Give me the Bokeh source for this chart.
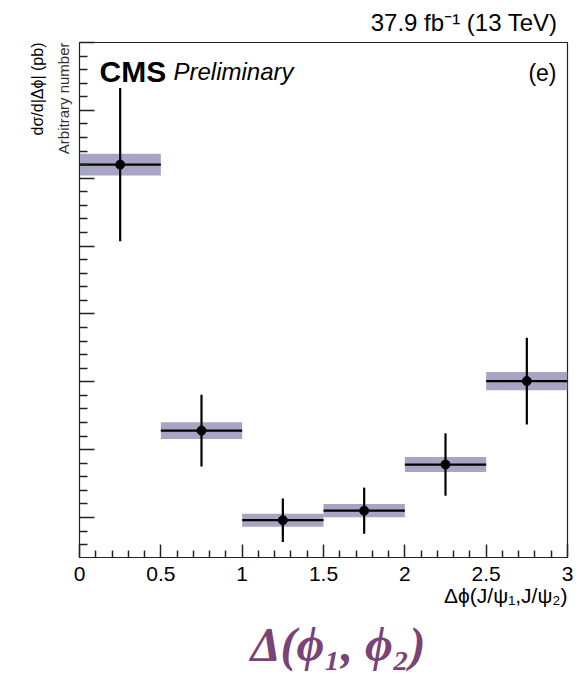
from bokeh.plotting import figure
from bokeh.models import Label, FixedTicker, Range1d, Title
from bokeh.embed import file_html
from bokeh.resources import INLINE

# ---------------- data ----------------
bin_lo = [0.0, 0.5, 1.0, 1.5, 2.0, 2.5]
bin_hi = [0.5, 1.0, 1.5, 2.0, 2.5, 3.0]
bin_center = [0.25, 0.75, 1.25, 1.75, 2.25, 2.75]
values = [6.20, 2.28, 0.96, 1.10, 1.78, 3.01]          # arbitrary units
stat_err = [1.13, 0.53, 0.32, 0.34, 0.46, 0.64]
syst_err = [0.16, 0.125, 0.096, 0.098, 0.11, 0.135]
x_ticks = [0, 0.5, 1, 1.5, 2, 2.5, 3]
x_tick_labels = ["0", "0.5", "1", "1.5", "2", "2.5", "3"]
y_ticks = [1, 2, 3, 4, 5, 6, 7, 8]

# ---------------- layout ----------------
W, H = 584, 691
L, R, T, B = 79, 567, 42, 557
X0, X1 = 0.0, 3.0
Y0, Y1 = 0.41, 8.0
FONT = "Liberation Sans"
AX = "#222222"
PURPLE = "#7a4376"

p = figure(width=W, height=H, output_backend="svg", toolbar_location=None,
           x_range=Range1d(X0, X1), y_range=Range1d(Y0, Y1),
           min_border_left=L, min_border_right=W - R,
           min_border_top=T, min_border_bottom=H - B)
p.background_fill_color = "white"
p.border_fill_color = "white"
p.outline_line_color = AX
p.outline_line_width = 1.2
p.xgrid.visible = False
p.ygrid.visible = False


def dx(px):
    return X0 + (px - L) / (R - L) * (X1 - X0)


def dy(py):
    return Y0 + (B - py) / (B - T) * (Y1 - Y0)


# ---------------- axes ----------------
xa = p.xaxis[0]
minor_x = [round(i * 0.1, 2) for i in range(31) if i % 5 != 0]
xa.ticker = FixedTicker(ticks=x_ticks, minor_ticks=minor_x)
xa.major_label_overrides = {t: s for t, s in zip(x_ticks, x_tick_labels)}
xa.major_tick_in = 13
xa.major_tick_out = 0
xa.minor_tick_in = 7
xa.minor_tick_out = 0
xa.major_label_standoff = 9
xa.major_label_text_font = FONT
xa.major_label_text_font_size = "21px"
xa.major_label_text_color = "black"

ya = p.yaxis[0]
minor_y = [round(1 + k * 0.2, 2) for k in range(-2, 36) if k % 5 != 0]
minor_y = [v for v in minor_y if Y0 < v < Y1]
ya.ticker = FixedTicker(ticks=y_ticks, minor_ticks=minor_y)
ya.major_tick_in = 15
ya.major_tick_out = 0
ya.minor_tick_in = 8
ya.minor_tick_out = 0
ya.major_label_text_font_size = "0px"
ya.major_label_standoff = 0

for a in (xa, ya):
    a.axis_line_color = AX
    a.major_tick_line_color = AX
    a.minor_tick_line_color = AX
    a.major_tick_line_width = 1.5
    a.minor_tick_line_width = 1.5

# ---------------- marks ----------------
band_bot = [v - s for v, s in zip(values, syst_err)]
band_top = [v + s for v, s in zip(values, syst_err)]
p.quad(left=bin_lo, right=bin_hi, bottom=band_bot, top=band_top,
       fill_color="#a8a4c4", line_color=None)
p.segment(x0=bin_lo, x1=bin_hi, y0=values, y1=values,
          line_color="black", line_width=2.2)
err_lo = [v - e for v, e in zip(values, stat_err)]
err_hi = [v + e for v, e in zip(values, stat_err)]
p.segment(x0=bin_center, x1=bin_center, y0=err_lo, y1=err_hi,
          line_color="black", line_width=2.2)
p.scatter(x=bin_center, y=values, size=9, marker="circle",
          fill_color="black", line_color="black")


# ---------------- texts inside the frame ----------------
def lab(text, px, py, size, align="left", style="normal"):
    lb = Label(x=dx(px), y=dy(py), text=text, text_font=FONT,
               text_font_size=f"{size}px", text_align=align,
               text_baseline="alphabetic", text_font_style=style,
               text_color="black")
    p.add_layout(lb)


lab("CMS", 99, 71, 30, style="bold")
lab("Preliminary", 173, 71, 24, style="italic")
lab("(e)", 556, 72, 23, align="right")


# ---------------- texts in the side panels ----------------
def title(text, where, size, align="right", offset=0, standoff=0,
          font=FONT, style="normal", color="black"):
    t = Title(text=text, align=align, text_font=font,
              text_font_size=f"{size}px", text_font_style=style,
              text_color=color, offset=offset, standoff=standoff)
    p.add_layout(t, where)


title("37.9 fb\u207b\u00b9 (13 TeV)", "above", 24, offset=10, standoff=13)
title("Arbitrary number", "left", 15, standoff=16, color="#333333")
title("d\u03c3/d|\u0394\u03d5| (pb)", "left", 16, standoff=-2)
title("\u0394\u03d5(J/\u03c8\u2081,J/\u03c8\u2082)", "below", 21, standoff=-3)
title("\u0394(\u03d5\u2081, \u03d5\u2082)", "below", 48, offset=142,
      standoff=21, font="Liberation Serif", style="bold italic",
      color=PURPLE)

open("out.html", "w").write(file_html(p, INLINE))
